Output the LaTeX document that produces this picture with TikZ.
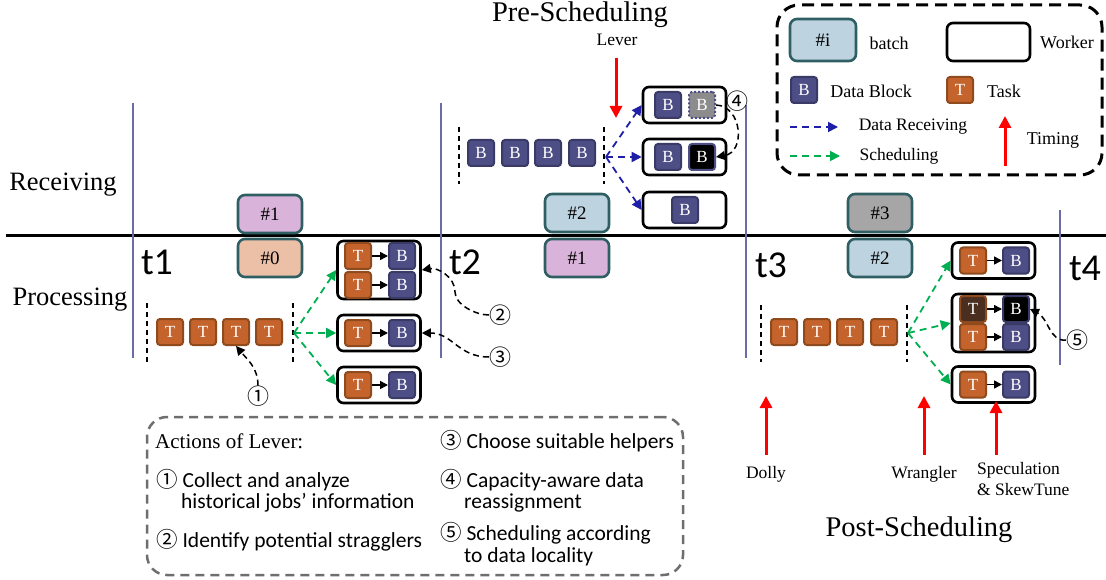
\documentclass[tikz,border=0pt]{standalone}
\usepackage{fontspec}
\setmainfont{Liberation Serif}
\newfontfamily\sansfam{Carlito}
\newfontfamily\symfam{Noto Sans CJK SC}
\usetikzlibrary{arrows.meta}

\definecolor{bfill}{HTML}{4E4E86}
\definecolor{bline}{HTML}{3A3A66}
\definecolor{tfill}{HTML}{C4642C}
\definecolor{tline}{HTML}{8F4A1E}
\definecolor{tdark}{HTML}{4A2F21}
\definecolor{batchline}{HTML}{2F5F62}
\definecolor{purplefill}{HTML}{D9B3DA}
\definecolor{peachfill}{HTML}{EBC0A6}
\definecolor{bluefill}{HTML}{BDD3E0}
\definecolor{grayfill}{HTML}{A6A6A6}
\definecolor{timeline}{HTML}{6B6BA6}
\definecolor{recvblue}{HTML}{1E1EA8}
\definecolor{schedgreen}{HTML}{00B050}
\definecolor{actgray}{HTML}{6E6E6E}

\tikzset{
  blk/.style={draw=bline, fill=bfill, line width=2pt, rounded corners=3pt,
    minimum size=26pt, inner sep=0pt, text=white, font=\fontsize{17}{17}\selectfont},
  tsk/.style={blk, draw=tline, fill=tfill},
  wkr/.style={draw=black, fill=white, line width=2.6pt, rounded corners=6pt,
    minimum width=83pt, minimum height=36pt, inner sep=0pt},
  wkrtall/.style={wkr, minimum height=56pt},
  batch/.style={draw=batchline, line width=2.6pt, rounded corners=7pt,
    minimum width=64pt, minimum height=38pt, inner sep=0pt, font=\fontsize{19}{19}\selectfont},
  tline/.style={draw=timeline, line width=1.2pt},
  sepline/.style={line width=1.2pt, dash pattern=on 5pt off 4pt},
  recv/.style={recvblue, line width=1.8pt, dash pattern=on 7pt off 5pt, -{Triangle[length=10pt,width=10pt]}},
  sched/.style={schedgreen, line width=1.8pt, dash pattern=on 7pt off 5pt, -{Triangle[length=10pt,width=10pt]}},
  tb/.style={black, line width=1.5pt, -{Triangle[length=8pt,width=8pt]}},
  note/.style={black, line width=1.5pt, dash pattern=on 6pt off 4pt, -{Triangle[length=9pt,width=9pt]}},
  timing/.style={red, line width=3pt, -{Triangle[length=12pt,width=12pt]}},
  tlab/.style={font=\sansfam\fontsize{38}{38}\selectfont, inner sep=0pt},
  circ/.style={font=\symfam\fontsize{22}{22}\selectfont, inner sep=0pt},
  big/.style={font=\fontsize{26.5}{26.5}\selectfont, inner sep=0pt},
  huge/.style={font=\fontsize{28.5}{28.5}\selectfont, inner sep=0pt},
  small/.style={font=\fontsize{17.5}{17.5}\selectfont, inner sep=0pt},
  leg/.style={font=\fontsize{18}{18}\selectfont, inner sep=0pt},
  act/.style={font=\sansfam\fontsize{21.5}{21.5}\selectfont, inner sep=0pt, anchor=west},
}
\newcommand{\cn}[1]{{\symfam #1}}

\begin{document}
\begin{tikzpicture}[x=1pt, y=-1pt]
\useasboundingbox (0,0) rectangle (1106,580);

% ---- lanes and timeline ----
\draw[line width=3pt] (6,236) -- (1106,236);
\draw[tline] (133,103) -- (133,358);
\draw[tline] (441,103) -- (441,358);
\draw[tline] (746,105) -- (746,358);
\draw[tline] (1060,210) -- (1060,365);

\node[big] (recvlab) at (63,185) {Receiving};
\node[big] (proclab) at (70,300) {Processing};
\node[tlab] (t1) at (157,262) {t1};
\node[tlab] (t2) at (465,262) {t2};
\node[tlab] (t3) at (771,265) {t3};
\node[tlab] (t4) at (1085,268) {t4};

% ---- batches ----
\node[batch, fill=purplefill] (b1r) at (270,214) {\#1};
\node[batch, fill=peachfill]  (b0p) at (270,258) {\#0};
\node[batch, fill=bluefill]   (b2r) at (577,213) {\#2};
\node[batch, fill=purplefill] (b1p) at (577,258) {\#1};
\node[batch, fill=grayfill]   (b3r) at (880,213) {\#3};
\node[batch, fill=bluefill]   (b2p) at (880,258) {\#2};

% ---- processing of batch #0 ----
\draw[sepline] (147,303) -- (147,362);
\draw[sepline] (293,303) -- (293,362);
\node[tsk] (lt1) at (170,332) {T};
\node[tsk] (lt2) at (203,332) {T};
\node[tsk] (lt3) at (236,332) {T};
\node[tsk] (lt4) at (269,332) {T};
\coordinate (lsrc) at (294,333);

\node[wkrtall, minimum height=58pt] (w1) at (379,270) {};
\node[tsk] (w1t1) at (358,256) {T};
\node[blk] (w1b1) at (402,256) {B};
\node[tsk] (w1t2) at (358,285) {T};
\node[blk] (w1b2) at (402,285) {B};
\node[wkr] (w2) at (379,333) {};
\node[tsk] (w2t) at (358,333) {T};
\node[blk] (w2b) at (402,333) {B};
\node[wkr] (w3) at (379,385) {};
\node[tsk] (w3t) at (358,385) {T};
\node[blk] (w3b) at (402,385) {B};
\foreach \a/\b in {w1t1/w1b1, w1t2/w1b2, w2t/w2b, w3t/w3b}
  \draw[tb] (\a.east) -- (\b.west);

\draw[sched] (lsrc) -- (w1.west);
\draw[sched] (lsrc) -- (w2.west);
\draw[sched] (lsrc) -- (w3.west);

\node[circ] (c1) at (258,396) {①};
\node[circ] (c2) at (500,315) {②};
\node[circ] (c3) at (500,357) {③};
\draw[note] (c1.north) to[out=90, in=-50] (lt3.south);
\draw[note] (c2.west) to[out=180, in=-90, looseness=0.8] (455,292) to[out=90, in=10] (w1.east);
\draw[note] (c3.west) to[out=180, in=0, looseness=1.1] (w2.east);

% ---- receiving of batch #2 ----
\draw[sepline] (459,127) -- (459,184);
\draw[sepline] (604,127) -- (604,184);
\node[blk] (rb1) at (481,153) {B};
\node[blk] (rb2) at (515,153) {B};
\node[blk] (rb3) at (548,153) {B};
\node[blk] (rb4) at (582,153) {B};
\coordinate (rsrc) at (606,157);

\node[wkr] (rw1) at (684.5,105) {};
\node[blk] (rw1a) at (668,105) {B};
\node[blk, fill=gray!90, draw=bfill, dash pattern=on 2pt off 2pt] (rw1b) at (702,105) {B};
\node[wkr] (rw2) at (684.5,157) {};
\node[blk] (rw2a) at (668,157) {B};
\node[blk, fill=black, draw=bfill] (rw2b) at (702,157) {B};
\node[wkr] (rw3) at (684.5,210) {};
\node[blk] (rw3a) at (685,210) {B};

\draw[recv] (rsrc) -- (rw1.west);
\draw[recv] (rsrc) -- (rw2.west);
\draw[recv] (rsrc) -- (rw3.west);

\node[circ] (c4) at (737,101) {④};
\draw[note] (rw1b.east) .. controls (742,106) and (746,152) .. (rw2b.east);

\coordinate (leverS) at (616,58);
\coordinate (leverE) at (616,118);
\draw[timing] (leverS) -- (leverE);
\node[small] (lever) at (617,40) {Lever};
\node[huge] (pre) at (580,15) {Pre-Scheduling};

% ---- processing of batch #2 ----
\draw[sepline] (761,305) -- (761,362);
\draw[sepline] (907,305) -- (907,362);
\node[tsk] (pt1) at (784,332) {T};
\node[tsk] (pt2) at (817,332) {T};
\node[tsk] (pt3) at (850,332) {T};
\node[tsk] (pt4) at (884,332) {T};
\coordinate (psrc) at (908,333);

\node[wkr] (pwa) at (993.5,260.5) {};
\node[tsk] (pwat) at (973,260.5) {T};
\node[blk] (pwab) at (1016,260.5) {B};
\node[wkrtall, minimum height=58pt] (pwb) at (993.5,323) {};
\node[tsk, fill=tdark] (pwbt1) at (973,309) {T};
\node[blk, fill=black] (pwbb1) at (1016,309) {B};
\node[tsk] (pwbt2) at (973,337) {T};
\node[blk] (pwbb2) at (1016,337) {B};
\node[wkr] (pwc) at (993.5,384.5) {};
\node[tsk] (pwct) at (973,384.5) {T};
\node[blk] (pwcb) at (1016,384.5) {B};
\foreach \a/\b in {pwat/pwab, pwbt1/pwbb1, pwbt2/pwbb2, pwct/pwcb}
  \draw[tb] (\a.east) -- (\b.west);

\draw[sched] (psrc) -- (pwa.west);
\draw[sched] (psrc) -- (pwb.west);
\draw[sched] (psrc) -- (pwc.west);

\node[circ] (c5) at (1077,340) {⑤};
\draw[note] (c5.west) .. controls (1050,342) and (1048,318) .. (pwbb1.east);

% ---- post-scheduling approaches ----
\coordinate (dollyS) at (766,455);
\coordinate (dollyE) at (766,396);
\coordinate (wranS) at (924,455);
\coordinate (wranE) at (924,396);
\coordinate (specS) at (996,455);
\coordinate (specE) at (996,401);
\draw[timing] (dollyS) -- (dollyE);
\draw[timing] (wranS) -- (wranE);
\draw[timing] (specS) -- (specE);
\node[small] (dolly) at (766,474) {Dolly};
\node[small] (wrangler) at (924,474) {Wrangler};
\node[small, anchor=west, align=left] (spec) at (977,479) {Speculation\\[3pt]\& SkewTune};
\node[huge] (post) at (919,530) {Post-Scheduling};

% ---- legend ----
\node[draw, line width=3pt, dash pattern=on 12pt off 7pt, rounded corners=22pt,
      minimum width=325pt, minimum height=170pt, inner sep=0pt] (legend) at (939.5,90) {};
\node[batch, fill=bluefill, minimum width=66pt, minimum height=42pt] (lbatch) at (823,40) {\#i};
\node[leg] (lbatchtxt) at (889,43) {batch};
\node[wkr, minimum height=38pt] (lworker) at (988.5,42) {};
\node[leg] (lworkertxt) at (1067,42) {Worker};
\node[blk] (lblk) at (804,90) {B};
\node[leg] (lblktxt) at (871,91) {Data Block};
\node[tsk] (ltsk) at (960,90) {T};
\node[leg] (ltsktxt) at (1004,91) {Task};
\coordinate (lrS) at (790,127);
\coordinate (lrE) at (838,127);
\draw[recv] (lrS) -- (lrE);
\node[small] (lrtxt) at (913,127) {Data Receiving};
\coordinate (lsS) at (790,156);
\coordinate (lsE) at (840,156);
\draw[sched] (lsS) -- (lsE);
\node[small] (lstxt) at (899,156) {Scheduling};
\coordinate (ltS) at (1005,166);
\coordinate (ltE) at (1005,116);
\draw[timing] (ltS) -- (ltE);
\node[leg] (lttxt) at (1053,140) {Timing};

% ---- actions of Lever ----
\node[draw=actgray, line width=2.5pt, dash pattern=on 9pt off 6pt, rounded corners=20pt,
      minimum width=536pt, minimum height=158pt, inner sep=0pt] (actions) at (415,496) {};
\node[font=\fontsize{21}{21}\selectfont, inner sep=0pt, anchor=west] (acttitle) at (155,441) {Actions of Lever:};
\node[act] (a1) at (156,480) {\cn{①} Collect and analyze};
\node[act] (a1b) at (181,503) {historical jobs’ information};
\node[act] (a2) at (156,540) {\cn{②} Identify potential stragglers};
\node[act] (a3) at (440,441) {\cn{③} Choose suitable helpers};
\node[act] (a4) at (440,480) {\cn{④} Capacity-aware data};
\node[act] (a4b) at (464,503) {reassignment};
\node[act] (a5) at (440,533) {\cn{⑤} Scheduling according};
\node[act] (a5b) at (464,557) {to data locality};
\end{tikzpicture}
\end{document}
